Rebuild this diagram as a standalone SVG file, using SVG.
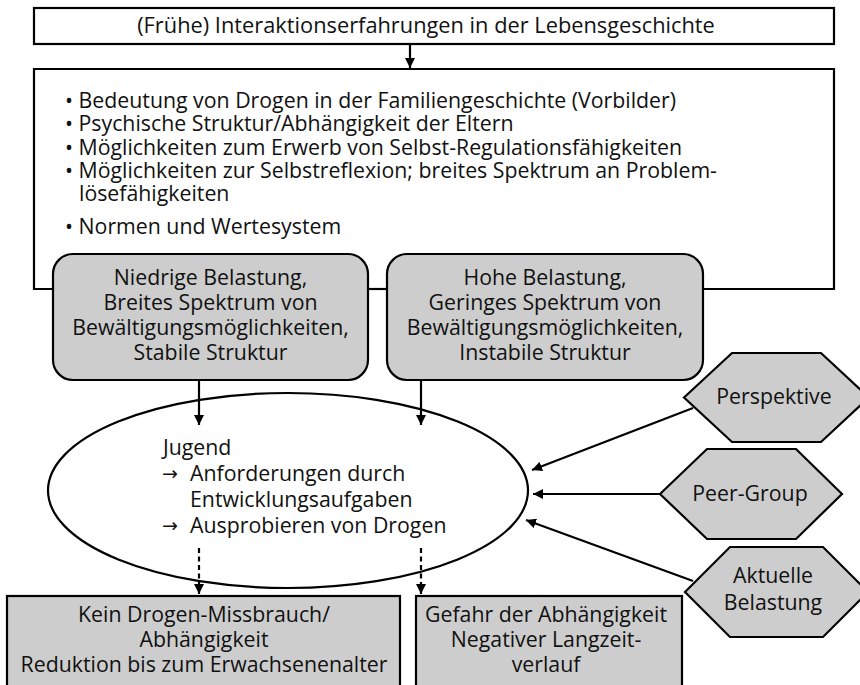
<svg xmlns="http://www.w3.org/2000/svg" width="860" height="685" viewBox="0 0 860 685">
  <defs>
    <marker id="head" viewBox="0 0 10 10" refX="10" refY="5" markerWidth="10" markerHeight="10" markerUnits="userSpaceOnUse" orient="auto">
      <path d="M0,0 L10,5 L0,10 z" fill="#000"/>
    </marker>
    <style>
      text { font-family: "Open Sans", "Noto Sans", "DejaVu Sans", sans-serif; font-size: 21.3px; fill: #111; }
      .mid { text-anchor: middle; }
      .arrow { font-family: "DejaVu Sans", sans-serif; font-size: 19px; }
      .plain { fill: #fff; stroke: #000; stroke-width: 2.2; }
      .grey { fill: #cdcdcd; stroke: #000; stroke-width: 2.2; }
      .link { fill: none; stroke: #000; stroke-width: 2.2; marker-end: url(#head); }
      .dots { stroke-dasharray: 5 3.5; }
    </style>
  </defs>

  <g id="history">
    <rect class="plain" x="34" y="8" width="800" height="36"/>
    <text class="mid" x="426" y="33" style="font-size:21.8px">(Frühe) Interaktionserfahrungen in der Lebensgeschichte</text>
  </g>

  <!-- outer frame; its lower edge runs behind the two rounded boxes -->
  <g id="family">
    <path class="plain" d="M53,289 H34 V69 H834 V289 H703"/>
    <line x1="368" y1="289" x2="387" y2="289" stroke="#000" stroke-width="2.2"/>
    <text x="65" y="108">• Bedeutung von Drogen in der Familiengeschichte (Vorbilder)</text>
    <text x="65" y="131">• Psychische Struktur/Abhängigkeit der Eltern</text>
    <text x="65" y="155">• Möglichkeiten zum Erwerb von Selbst-Regulationsfähigkeiten</text>
    <text x="65" y="178">• Möglichkeiten zur Selbstreflexion; breites Spektrum an Problem-</text>
    <text x="79" y="201">lösefähigkeiten</text>
    <text x="65" y="234">• Normen und Wertesystem</text>
  </g>

  <g id="low-load">
    <rect class="grey" x="53" y="254" width="315" height="126" rx="20" ry="20"/>
    <text class="mid" x="210.5" y="285">Niedrige Belastung,</text>
    <text class="mid" x="210.5" y="310">Breites Spektrum von</text>
    <text class="mid" x="210.5" y="335">Bewältigungsmöglichkeiten,</text>
    <text class="mid" x="210.5" y="360">Stabile Struktur</text>
  </g>

  <g id="high-load">
    <rect class="grey" x="387" y="254" width="316" height="126" rx="20" ry="20"/>
    <text class="mid" x="545" y="285">Hohe Belastung,</text>
    <text class="mid" x="545" y="310">Geringes Spektrum von</text>
    <text class="mid" x="545" y="335">Bewältigungsmöglichkeiten,</text>
    <text class="mid" x="545" y="360">Instabile Struktur</text>
  </g>

  <g id="youth">
    <ellipse class="plain" cx="288" cy="490.5" rx="240" ry="97.5"/>
    <text x="163" y="455">Jugend</text>
    <text class="arrow" x="162" y="480">→</text>
    <text x="190" y="481">Anforderungen durch</text>
    <text x="190" y="507">Entwicklungsaufgaben</text>
    <text class="arrow" x="162" y="532">→</text>
    <text x="190" y="533">Ausprobieren von Drogen</text>
  </g>

  <g id="perspective">
    <polygon class="grey" points="684,397.5 732,353 821,353 869,397.5 821,442 732,442"/>
    <text class="mid" x="774" y="404">Perspektive</text>
  </g>

  <g id="peer-group">
    <polygon class="grey" points="660,494 707,449 796,449 842,494 796,539 707,539"/>
    <text class="mid" x="750" y="501">Peer-Group</text>
  </g>

  <g id="current-load">
    <polygon class="grey" points="685,592 730,547 823,547 868,592 823,637 730,637"/>
    <text class="mid" x="773" y="583">Aktuelle</text>
    <text class="mid" x="773" y="610">Belastung</text>
  </g>

  <g id="no-abuse">
    <rect class="grey" x="7" y="596" width="393" height="100"/>
    <text class="mid" x="204" y="622">Kein Drogen-Missbrauch/</text>
    <text class="mid" x="204" y="647">Abhängigkeit</text>
    <text class="mid" x="204" y="672">Reduktion bis zum Erwachsenenalter</text>
  </g>

  <g id="dependence-risk">
    <rect class="grey" x="416" y="596" width="266" height="100"/>
    <text class="mid" x="546" y="622">Gefahr der Abhängigkeit</text>
    <text class="mid" x="546" y="647">Negativer Langzeit-</text>
    <text class="mid" x="546" y="672">verlauf</text>
  </g>

  <g id="connectors">
    <line class="link" x1="410" y1="44" x2="410" y2="68"/>
    <line class="link" x1="199" y1="380" x2="199" y2="425"/>
    <line class="link" x1="421" y1="380" x2="421" y2="425"/>
    <line class="link dots" x1="199" y1="548" x2="199" y2="594"/>
    <line class="link dots" x1="421" y1="548" x2="421" y2="594"/>
    <line class="link" x1="693" y1="408" x2="532" y2="470"/>
    <line class="link" x1="660" y1="494" x2="533" y2="494"/>
    <line class="link" x1="693" y1="581" x2="526" y2="520"/>
  </g>
</svg>
